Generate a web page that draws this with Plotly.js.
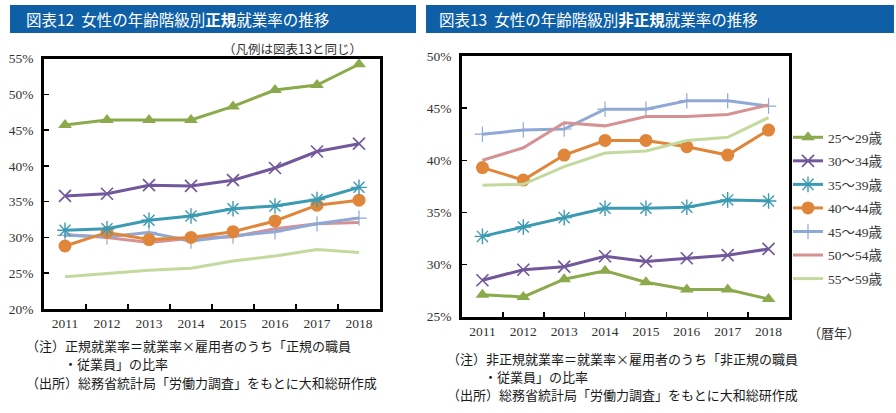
<!DOCTYPE html>
<html><head><meta charset="utf-8">
<script src="https://cdn.plot.ly/plotly-3.0.1.min.js"></script>
<style>html,body{margin:0;padding:0;background:#fff}#c{width:896px;height:413px}</style>
</head><body><div id="c"></div>
<script>
// ---- data ----
const years = ['2011','2012','2013','2014','2015','2016','2017','2018'];
const ageGroups = ['25～29歳','30～34歳','35～39歳','40～44歳','45～49歳','50～54歳','55～59歳'];
// 図表12 正規就業率 (%)
const reg25 = [45.7, 46.4, 46.4, 46.4, 48.3, 50.6, 51.3, 54.2];
const reg30 = [35.8, 36.1, 37.3, 37.2, 38.0, 39.7, 42.0, 43.1];
const reg35 = [31.0, 31.2, 32.4, 33.0, 34.0, 34.4, 35.3, 37.0];
const reg40 = [28.8, 30.7, 29.7, 30.0, 30.8, 32.3, 34.5, 35.2];
const reg45 = [30.3, 30.1, 30.7, 29.5, 30.2, 30.8, 31.9, 32.7];
const reg50 = [30.4, 30.0, 29.3, 29.9, 30.1, 31.2, 31.9, 32.1];
const reg55 = [24.5, 25.0, 25.4, 25.7, 26.7, 27.4, 28.3, 27.9];
// 図表13 非正規就業率 (%)
const non25 = [27.1, 26.9, 28.6, 29.4, 28.3, 27.6, 27.6, 26.7];
const non30 = [28.5, 29.5, 29.8, 30.8, 30.3, 30.6, 30.9, 31.5];
const non35 = [32.7, 33.6, 34.5, 35.4, 35.4, 35.5, 36.2, 36.1];
const non40 = [39.3, 38.1, 40.5, 41.9, 41.9, 41.3, 40.5, 42.9];
const non45 = [42.5, 42.9, 43.0, 44.9, 44.9, 45.7, 45.7, 45.2];
const non50 = [40.0, 41.2, 43.6, 43.3, 44.2, 44.2, 44.4, 45.3];
const non55 = [37.6, 37.7, 39.4, 40.7, 40.9, 41.9, 42.2, 44.1];
const yTicksLeft = [20,25,30,35,40,45,50,55];
const yTicksRight = [25,30,35,40,45,50];
const yLabelsLeft = ['20%','25%','30%','35%','40%','45%','50%','55%'];
const yLabelsRight = ['25%','30%','35%','40%','45%','50%'];

// ---- styles ----
const W = 896, H = 413;
const px = x => x / W, py = y => 1 - y / H;
const styles = [
  {color:'#8BAA4B', symbol:'triangle-up', size:12},
  {color:'#71579B', symbol:'x-thin-open', size:12, lw:1.6},
  {color:'#3C9BB3', symbol:'asterisk-open', size:13, lw:1.4},
  {color:'#E0863A', symbol:'circle', size:13},
  {color:'#8FA8D6', symbol:'cross-thin-open', size:11, lw:1.2},
  {color:'#D69293', symbol:null},
  {color:'#C4D99E', symbol:null}
];
const regSeries = [reg25, reg30, reg35, reg40, reg45, reg50, reg55];
const nonSeries = [non25, non30, non35, non40, non45, non50, non55];

function mk(vals, i, xa, ya, show) {
  const s = styles[i];
  const t = {
    x: years, y: vals, name: ageGroups[i], xaxis: xa, yaxis: ya,
    type: 'scatter', showlegend: show,
    line: {color: s.color, width: 3},
    hoverinfo: 'skip'
  };
  if (show) t.legendgroup = 'R' + i;
  if (s.symbol) {
    t.mode = 'lines+markers';
    t.marker = {symbol: s.symbol, size: s.size, color: s.color, line: {color: s.color, width: s.lw || 0}};
  } else {
    t.mode = 'lines';
  }
  return t;
}
const traces = [];
for (let i = 0; i < 7; i++) traces.push(mk(nonSeries[i], i, 'x2', 'y2', true));
for (let i = 6; i >= 0; i--) traces.push(mk(regSeries[i], i, 'x', 'y', false));

const tickFont = {family: '"Liberation Serif", "DejaVu Serif", serif', size: 13.5, color: '#333'};
const xBase = {
  type: 'category', range: [-0.5, 7.5], tickson: 'boundaries', ticks: 'inside', ticklen: 5,
  tickwidth: 1.5, tickcolor: '#000', showline: true, mirror: true, linecolor: '#000', linewidth: 2.8,
  showgrid: false, zeroline: false, tickfont: tickFont, fixedrange: true
};
const yBase = {
  ticks: 'inside', ticklen: 5, tickwidth: 1.5, tickcolor: '#000', tickmode: 'array',
  showline: true, mirror: true, linecolor: '#000', linewidth: 2.8, showgrid: false, zeroline: false,
  tickfont: tickFont, ticklabelstandoff: 5, fixedrange: true
};
const jp = '"Noto Sans CJK JP", "Noto Sans", sans-serif';
const noteFont = {family: jp, size: 13, color: '#1a1a1a'};
function note(text, x, y) {
  return {text: text, x: px(x), y: py(y), xref: 'paper', yref: 'paper', xanchor: 'left', yanchor: 'middle',
    showarrow: false, font: noteFont};
}
const layout = {
  width: W, height: H, margin: {l: 0, r: 0, t: 0, b: 0},
  paper_bgcolor: '#fff', plot_bgcolor: '#fff', showlegend: true,
  xaxis: Object.assign({}, xBase, {domain: [px(44), px(380)], anchor: 'y'}),
  yaxis: Object.assign({}, yBase, {domain: [py(309), py(58.5)], range: [20, 55], tickvals: yTicksLeft, ticktext: yLabelsLeft, anchor: 'x'}),
  xaxis2: Object.assign({}, xBase, {domain: [px(462), px(789)], anchor: 'y2'}),
  yaxis2: Object.assign({}, yBase, {domain: [py(316.7), py(56)], range: [25, 50], tickvals: yTicksRight, ticktext: yLabelsRight, anchor: 'x2'}),
  legend: {
    x: px(788), y: py(122), xanchor: 'left', yanchor: 'top', bgcolor: 'rgba(0,0,0,0)',
    font: {family: '"Liberation Serif", "Noto Sans CJK JP", serif', size: 13.5, color: '#333'},
    itemwidth: 30, tracegroupgap: 3, traceorder: 'grouped'
  },
  shapes: [
    {type: 'rect', xref: 'paper', yref: 'paper', x0: px(10), x1: px(416), y0: py(33), y1: py(5), fillcolor: '#0E5FA6', line: {width: 0}},
    {type: 'rect', xref: 'paper', yref: 'paper', x0: px(426), x1: px(894), y0: py(33), y1: py(5), fillcolor: '#0E5FA6', line: {width: 0}}
  ],
  annotations: [
    {text: '図表12  女性の年齢階級別<b>正規</b>就業率の推移', x: px(24), y: py(19), xref: 'paper', yref: 'paper',
      xanchor: 'left', yanchor: 'middle', showarrow: false, font: {family: jp, size: 15.5, color: '#fff'}},
    {text: '図表13  女性の年齢階級別<b>非正規</b>就業率の推移', x: px(437), y: py(19), xref: 'paper', yref: 'paper',
      xanchor: 'left', yanchor: 'middle', showarrow: false, font: {family: jp, size: 15.5, color: '#fff'}},
    {text: '（凡例は図表13と同じ）', x: px(364), y: py(48), xref: 'paper', yref: 'paper', xanchor: 'right', yanchor: 'middle',
      showarrow: false, font: {family: jp, size: 12.5, color: '#333'}},
    {text: '（暦年）', x: px(806), y: py(332), xref: 'paper', yref: 'paper', xanchor: 'left', yanchor: 'middle',
      showarrow: false, font: {family: jp, size: 13, color: '#333'}},
    note('（注）正規就業率＝就業率×雇用者のうち「正規の職員', 24, 345),
    note('・従業員」の比率', 62, 363),
    note('（出所）総務省統計局「労働力調査」をもとに大和総研作成', 24, 382),
    note('（注）非正規就業率＝就業率×雇用者のうち「非正規の職員', 445, 358),
    note('・従業員」の比率', 482, 376),
    note('（出所）総務省統計局「労働力調査」をもとに大和総研作成', 445, 394)
  ]
};
Plotly.newPlot('c', traces, layout, {staticPlot: true, displayModeBar: false});
</script></body></html>
